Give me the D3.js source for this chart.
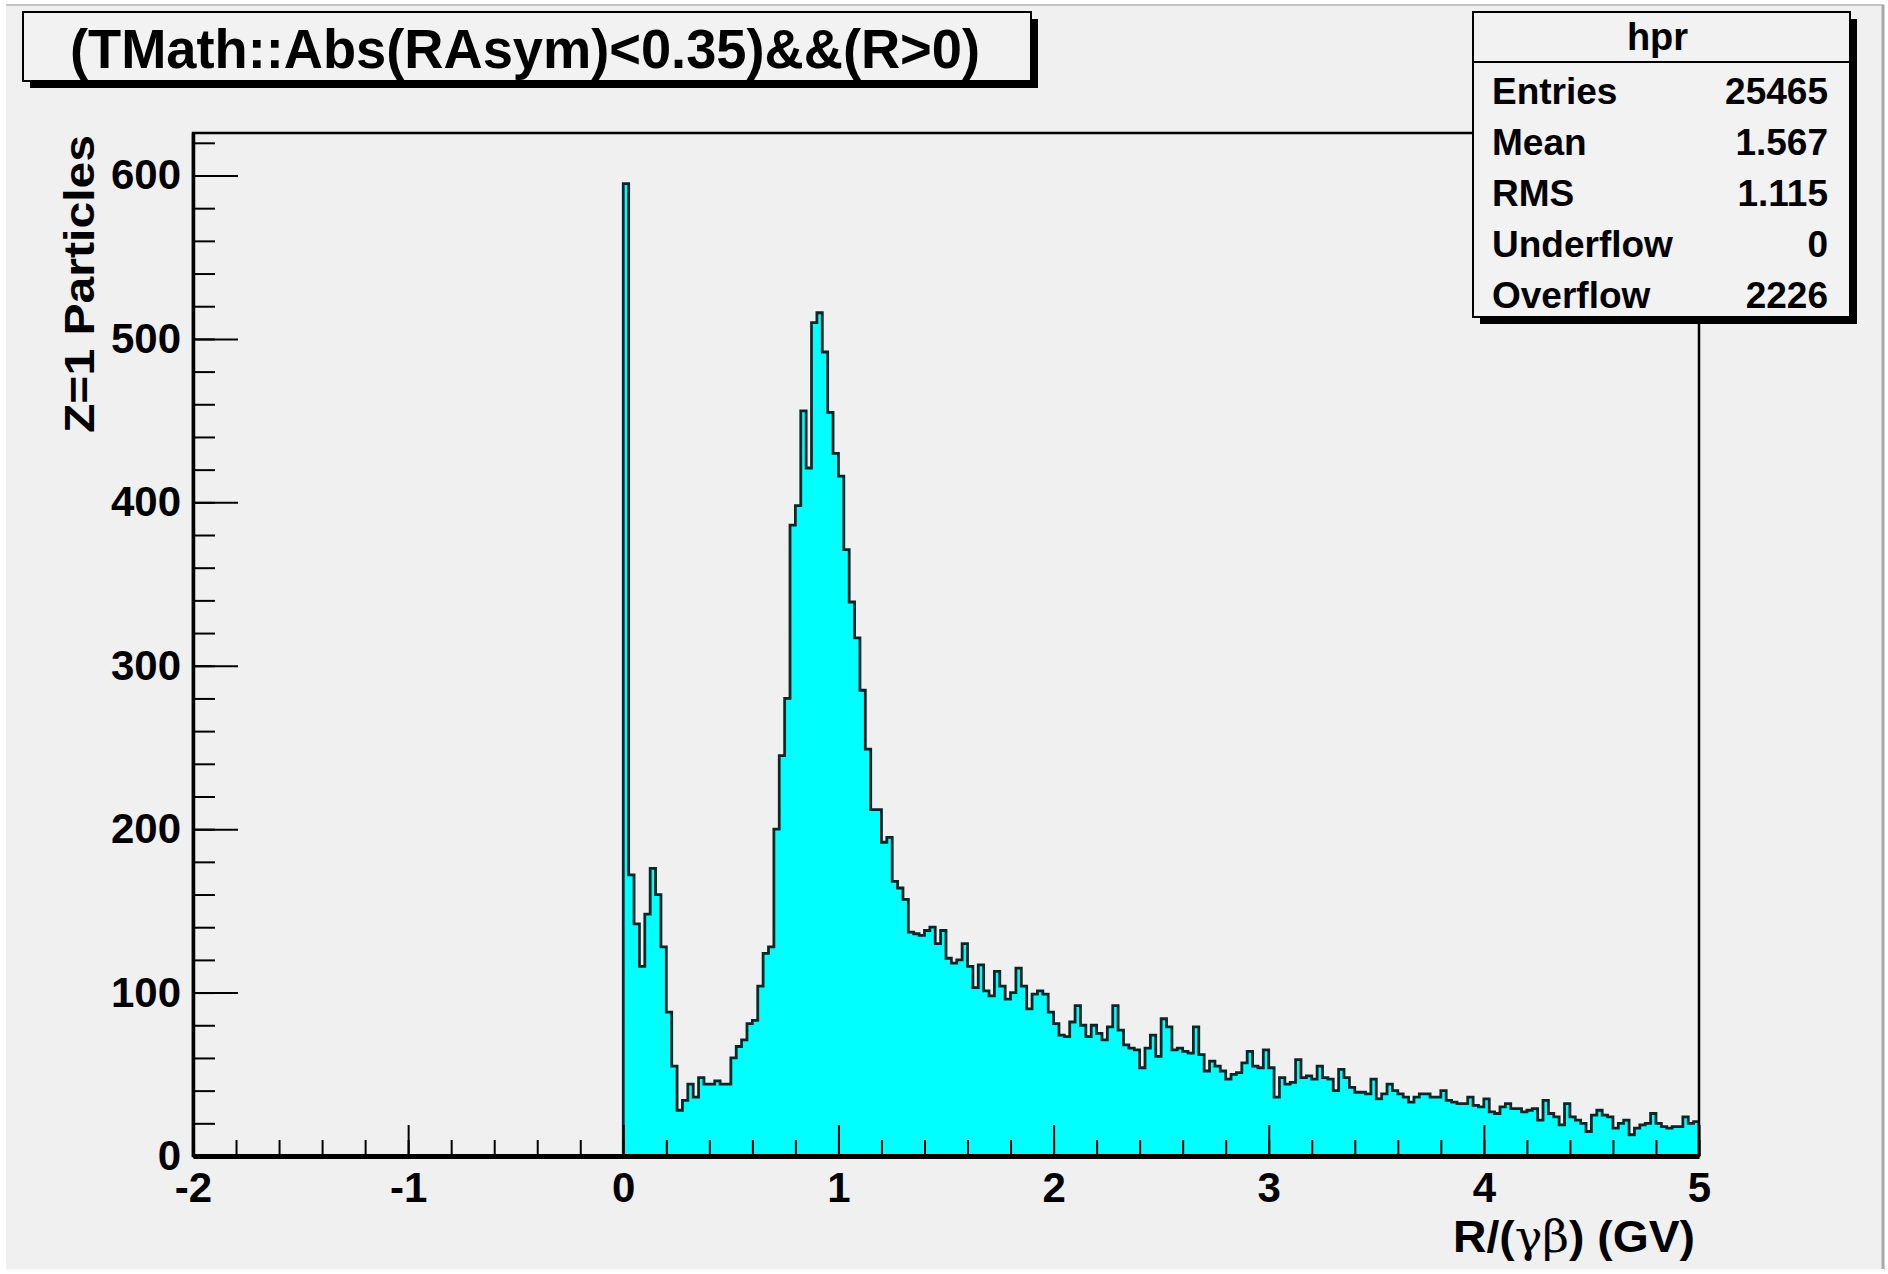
<!DOCTYPE html>
<html>
<head>
<meta charset="utf-8">
<script src="https://cdn.jsdelivr.net/npm/d3@7"></script>
<style>
  html, body { margin: 0; padding: 0; background: #ffffff; }
  svg text { font-family: "Liberation Sans", Arial, Helvetica, sans-serif; fill: #000; }
</style>
</head>
<body>
<div class="chart"></div>
<script>
// histogram hpr: 0.025 wide bins from 0 to 5
var binStart = 0;
var binWidth = 0.025;
var counts = [
  595, 172, 142, 116, 148, 176, 160, 128,  88,  55,
   28,  34,  44,  36,  48,  44,  44,  46,  44,  44,
   60,  67,  71,  81,  83, 104, 124, 128, 200, 245,
  280, 386, 398, 456, 421, 510, 516, 492, 455, 430,
  416, 371, 339, 317, 285, 249, 212, 212, 192, 195,
  168, 164, 157, 137, 136, 135, 138, 140, 130, 138,
  121, 118, 120, 130, 116, 103, 117, 101,  98, 113,
  104,  96, 100, 115, 104,  90,  99, 101,  99,  88,
   81,  74,  73,  82,  92,  80,  73,  80,  75,  71,
   79,  92,  77,  68,  66,  65,  54,  66,  74,  61,
   84,  79,  65,  66,  64,  63,  79,  62,  52,  58,
   55,  52,  47,  50,  51,  57,  64,  55,  54,  65,
   54,  36,  48,  44,  45,  59,  48,  49,  47,  55,
   48,  47,  40,  53,  48,  42,  39,  39,  38,  47,
   35,  38,  44,  40,  38,  36,  33,  36,  38,  38,
   36,  36,  40,  34,  33,  32,  32,  36,  31,  30,
   35,  27,  26,  30,  32,  29,  29,  27,  28,  29,
   22,  34,  26,  24,  19,  32,  24,  22,  20,  15,
   25,  28,  25,  24,  17,  20,  22,  13,  17,  19,
   20,  26,  20,  18,  17,  18,  18,  24,  20,  21
];
var xTicks = [-2, -1, 0, 1, 2, 3, 4, 5];
var yTicks = [0, 100, 200, 300, 400, 500, 600];
var statNames = ['Entries', 'Mean', 'RMS', 'Underflow', 'Overflow'];
var statValues = ['25465', '1.567', '1.115', '0', '2226'];
var histName = 'hpr';
var titleText = '(TMath::Abs(RAsym)<0.35)&&(R>0)';
var yTitle = 'Z=1 Particles';

;(function(window, document, undefined) {

	'use strict';

	var W = 1888, H = 1274;
	var frame = { left: 193, right: 1699, top: 133, bottom: 1156 };

	function init() {
		var svg = d3.select('.chart')
			.append('svg')
			.attr('width', W)
			.attr('height', H);

		drawCanvas(svg);
		var scales = {
			x: d3.scaleLinear().domain([-2, 5]).range([frame.left, frame.right]),
			y: d3.scaleLinear().domain([0, 626]).range([frame.bottom, frame.top])
		};
		drawHist(svg, scales);
		drawAxes(svg, scales);
		drawTitle(svg);
		drawStats(svg);
	}

	function drawCanvas(svg) {
		svg.append('rect')
			.attr('x', 6).attr('y', 5)
			.attr('width', W - 10).attr('height', H - 9)
			.attr('fill', '#f0f0f0');
		svg.append('line')
			.attr('x1', 6).attr('x2', W - 4).attr('y1', 5).attr('y2', 5)
			.attr('stroke', '#c4c4c4').attr('stroke-width', 2);
		svg.append('line')
			.attr('x1', W - 5).attr('x2', W - 5).attr('y1', 5).attr('y2', H - 4)
			.attr('stroke', '#a8a8a8').attr('stroke-width', 3);
		svg.append('line')
			.attr('x1', 6).attr('x2', W - 4).attr('y1', H - 4).attr('y2', H - 4)
			.attr('stroke', '#fafafa').attr('stroke-width', 2);
	}

	function drawHist(svg, s) {
		var pts = [{ x: binStart, y: 0 }];
		counts.forEach(function(c, i) {
			pts.push({ x: binStart + i * binWidth, y: c });
		});
		pts.push({ x: binStart + counts.length * binWidth, y: counts[counts.length - 1] });
		pts.push({ x: binStart + counts.length * binWidth, y: 0 });

		svg.append('clipPath').attr('id', 'frameClip')
			.append('rect')
			.attr('x', frame.left).attr('y', frame.top)
			.attr('width', frame.right - frame.left)
			.attr('height', frame.bottom - frame.top);

		var g = svg.append('g').attr('clip-path', 'url(#frameClip)');

		var area = d3.area()
			.curve(d3.curveStepAfter)
			.x(function(d) { return s.x(d.x); })
			.y0(s.y(0))
			.y1(function(d) { return s.y(d.y); });

		var line = d3.line()
			.curve(d3.curveStepAfter)
			.x(function(d) { return s.x(d.x); })
			.y(function(d) { return s.y(d.y); });

		g.append('path')
			.datum(pts)
			.attr('d', area)
			.attr('fill', '#00ffff');

		g.append('path')
			.datum(pts)
			.attr('d', line)
			.attr('fill', 'none')
			.attr('stroke', '#0b2626')
			.attr('stroke-width', 2.8)
			.attr('stroke-linejoin', 'miter');
	}

	function drawAxes(svg, s) {
		// frame
		svg.append('rect')
			.attr('x', frame.left).attr('y', frame.top)
			.attr('width', frame.right - frame.left)
			.attr('height', frame.bottom - frame.top)
			.attr('fill', 'none')
			.attr('stroke', '#000')
			.attr('stroke-width', 2.5);

		var minorX = d3.range(-2, 5.001, 0.2);
		var minorY = d3.range(0, 621, 20);

		var xMinor = svg.append('g')
			.attr('transform', 'translate(0,' + frame.bottom + ')')
			.call(d3.axisBottom(s.x).tickValues(minorX).tickSize(-16).tickSizeOuter(0).tickFormat(''));
		xMinor.select('.domain').remove();

		var xAxis = svg.append('g')
			.attr('transform', 'translate(0,' + frame.bottom + ')')
			.call(d3.axisBottom(s.x).tickValues(xTicks).tickSize(-31).tickSizeOuter(0)
				.tickPadding(16).tickFormat(function(d) { return String(d); }));

		var yMinor = svg.append('g')
			.attr('transform', 'translate(' + frame.left + ',0)')
			.call(d3.axisLeft(s.y).tickValues(minorY).tickSize(-22).tickSizeOuter(0).tickFormat(''));
		yMinor.select('.domain').remove();

		var yAxis = svg.append('g')
			.attr('transform', 'translate(' + frame.left + ',0)')
			.call(d3.axisLeft(s.y).tickValues(yTicks).tickSize(-45).tickSizeOuter(0)
				.tickPadding(12).tickFormat(function(d) { return String(d); }));

		svg.selectAll('.tick line').attr('stroke', '#000').attr('stroke-width', 2);
		xAxis.select('.domain').attr('stroke', '#000').attr('stroke-width', 5);
		yAxis.select('.domain').attr('stroke', '#000').attr('stroke-width', 3.5);

		svg.selectAll('.tick text')
			.attr('fill', '#000')
			.style('font-size', '42px')
			.style('font-weight', 'bold');

		// axis titles
		var xt = svg.append('text')
			.attr('x', 1695).attr('y', 1252)
			.attr('text-anchor', 'end')
			.attr('textLength', 242)
			.attr('lengthAdjust', 'spacingAndGlyphs')
			.style('font-size', '44px')
			.style('font-weight', 'bold');
		xt.append('tspan').text('R/(');
		xt.append('tspan').style('font-weight', 'normal').style('font-family', '"DejaVu Serif", "Liberation Serif", serif').text('γβ');
		xt.append('tspan').text(') (GV)');

		svg.append('text')
			.attr('transform', 'translate(94,135) rotate(-90)')
			.attr('text-anchor', 'end')
			.attr('textLength', 298)
			.attr('lengthAdjust', 'spacingAndGlyphs')
			.style('font-size', '42px')
			.style('font-weight', 'bold')
			.text(yTitle);
	}

	function drawTitle(svg) {
		var box = { x: 23, y: 12, w: 1008, h: 69 };
		svg.append('rect')
			.attr('x', box.x + 7).attr('y', box.y + 7)
			.attr('width', box.w).attr('height', box.h)
			.attr('fill', '#000');
		svg.append('rect')
			.attr('x', box.x).attr('y', box.y)
			.attr('width', box.w).attr('height', box.h)
			.attr('fill', '#f2f2f2')
			.attr('stroke', '#000')
			.attr('stroke-width', 2);
		svg.append('text')
			.attr('x', 70).attr('y', 68)
			.attr('textLength', 910)
			.attr('lengthAdjust', 'spacingAndGlyphs')
			.style('font-size', '55px')
			.style('font-weight', 'bold')
			.text(titleText);
	}

	function drawStats(svg) {
		var box = { x: 1473, y: 12, w: 377, h: 305 };
		svg.append('rect')
			.attr('x', box.x + 7).attr('y', box.y + 7)
			.attr('width', box.w).attr('height', box.h)
			.attr('fill', '#000');
		svg.append('rect')
			.attr('x', box.x).attr('y', box.y)
			.attr('width', box.w).attr('height', box.h)
			.attr('fill', '#f2f2f2')
			.attr('stroke', '#000')
			.attr('stroke-width', 2);
		svg.append('line')
			.attr('x1', box.x).attr('x2', box.x + box.w)
			.attr('y1', 62).attr('y2', 62)
			.attr('stroke', '#000').attr('stroke-width', 2);
		svg.append('text')
			.attr('x', box.x + box.w / 2 - 4).attr('y', 50)
			.attr('text-anchor', 'middle')
			.style('font-size', '38px')
			.style('font-weight', 'bold')
			.text(histName);

		var rowY = d3.scaleLinear().domain([0, statNames.length - 1]).range([104, 308]);
		svg.selectAll('text.statName')
			.data(statNames)
			.enter()
			.append('text')
			.attr('class', 'statName')
			.attr('x', 1492)
			.attr('y', function(d, i) { return rowY(i); })
			.style('font-size', '37px')
			.style('font-weight', 'bold')
			.text(function(d) { return d; });
		svg.selectAll('text.statValue')
			.data(statValues)
			.enter()
			.append('text')
			.attr('class', 'statValue')
			.attr('x', 1828)
			.attr('y', function(d, i) { return rowY(i); })
			.attr('text-anchor', 'end')
			.style('font-size', '37px')
			.style('font-weight', 'bold')
			.text(function(d) { return d; });
	}

	init();

})(window, document);
</script>
</body>
</html>
